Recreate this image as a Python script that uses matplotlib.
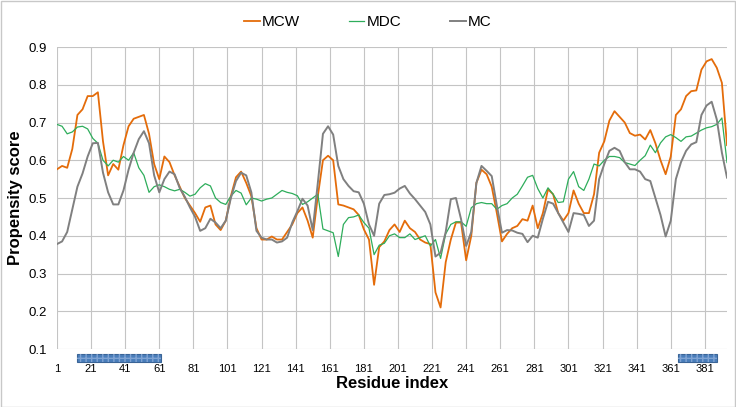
import numpy as np
import matplotlib.pyplot as plt
from matplotlib.patches import Rectangle
import matplotlib.transforms as mtransforms

plt.rcParams['font.family'] = ['Liberation Sans Narrow', 'Liberation Sans', 'DejaVu Sans']

# Datos (residuo cada 3 posiciones)
residue = list(range(1, 395, 3))

mcw = [0.576, 0.585, 0.58, 0.63, 0.72, 0.735, 0.77, 0.77, 0.78, 0.65, 0.56, 0.59,
       0.575, 0.64, 0.69, 0.71, 0.715, 0.72, 0.67, 0.59, 0.55, 0.61, 0.595, 0.56,
       0.53, 0.5, 0.48, 0.46, 0.437, 0.475, 0.48, 0.43, 0.415, 0.44, 0.505, 0.555,
       0.57, 0.54, 0.505, 0.42, 0.39, 0.39, 0.398, 0.39, 0.39, 0.41, 0.43, 0.46,
       0.475, 0.44, 0.395, 0.505, 0.6, 0.612, 0.6, 0.483, 0.48, 0.475, 0.47, 0.455,
       0.417, 0.39, 0.27, 0.37, 0.385, 0.415, 0.43, 0.41, 0.44, 0.42, 0.41, 0.39,
       0.382, 0.378, 0.25, 0.21, 0.33, 0.39, 0.435, 0.435, 0.335, 0.4, 0.54, 0.575,
       0.563, 0.53, 0.46, 0.385, 0.405, 0.42, 0.426, 0.444, 0.44, 0.48, 0.42, 0.46,
       0.523, 0.51, 0.46, 0.44, 0.46, 0.52, 0.485, 0.46, 0.46, 0.51, 0.62, 0.65,
       0.705, 0.73, 0.715, 0.7, 0.672, 0.665, 0.668, 0.655, 0.68, 0.645, 0.6, 0.563,
       0.61, 0.72, 0.735, 0.77, 0.783, 0.785, 0.84, 0.862, 0.868, 0.845, 0.805, 0.64]

mdc = [0.695, 0.69, 0.67, 0.675, 0.688, 0.69, 0.683, 0.658, 0.645, 0.6, 0.585, 0.6,
       0.595, 0.61, 0.6, 0.62, 0.58, 0.56, 0.515, 0.53, 0.535, 0.53, 0.523, 0.519,
       0.523, 0.515, 0.505, 0.51, 0.527, 0.538, 0.532, 0.5, 0.488, 0.483, 0.505, 0.52,
       0.513, 0.482, 0.5, 0.497, 0.492, 0.497, 0.5, 0.51, 0.52, 0.515, 0.512, 0.506,
       0.483, 0.49, 0.5, 0.51, 0.418, 0.413, 0.408, 0.345, 0.43, 0.448, 0.45, 0.455,
       0.435, 0.42, 0.35, 0.375, 0.38, 0.4, 0.405, 0.395, 0.395, 0.405, 0.39, 0.395,
       0.4, 0.373, 0.39, 0.34, 0.405, 0.43, 0.437, 0.437, 0.425, 0.474, 0.485, 0.488,
       0.485, 0.485, 0.47, 0.48, 0.485, 0.5, 0.51, 0.532, 0.555, 0.56, 0.525, 0.5,
       0.527, 0.51, 0.488, 0.49, 0.55, 0.57, 0.53, 0.52, 0.55, 0.59, 0.585, 0.6,
       0.61, 0.61, 0.607, 0.594, 0.59, 0.586, 0.6, 0.612, 0.64, 0.62, 0.646, 0.662,
       0.668, 0.66, 0.65, 0.662, 0.664, 0.672, 0.68, 0.686, 0.689, 0.695, 0.712, 0.594]

mc = [0.378, 0.385, 0.41, 0.47, 0.53, 0.565, 0.61, 0.645, 0.646, 0.567, 0.515, 0.483,
      0.483, 0.52, 0.575, 0.62, 0.656, 0.677, 0.645, 0.56, 0.515, 0.55, 0.57, 0.563,
      0.526, 0.503, 0.475, 0.45, 0.413, 0.42, 0.445, 0.435, 0.42, 0.44, 0.5, 0.545,
      0.567, 0.56, 0.515, 0.413, 0.395, 0.39, 0.39, 0.382, 0.385, 0.395, 0.435, 0.465,
      0.498, 0.48, 0.415, 0.54, 0.67, 0.69, 0.668, 0.585, 0.55, 0.532, 0.518, 0.515,
      0.485, 0.43, 0.4, 0.485, 0.508, 0.51, 0.514, 0.525, 0.532, 0.512, 0.497, 0.48,
      0.463, 0.43, 0.345, 0.355, 0.41, 0.497, 0.5, 0.444, 0.373, 0.41, 0.54, 0.585,
      0.572, 0.558, 0.48, 0.408, 0.415, 0.414, 0.408, 0.405, 0.383, 0.4, 0.395, 0.445,
      0.49, 0.485, 0.46, 0.435, 0.41, 0.46, 0.458, 0.455, 0.426, 0.44, 0.55, 0.59,
      0.625, 0.633, 0.625, 0.595, 0.576, 0.576, 0.57, 0.55, 0.545, 0.5, 0.455, 0.398,
      0.44, 0.55, 0.595, 0.625, 0.642, 0.648, 0.72, 0.745, 0.755, 0.708, 0.62, 0.554]

# Dominios marcados bajo el eje (residuo inicial, final)
domains = [(13, 62), (365, 388)]

xticks = list(range(1, 382, 20))
yticks = [0.1, 0.2, 0.3, 0.4, 0.5, 0.6, 0.7, 0.8, 0.9]

# Colores
clr_mcw = '#E46C0A'
clr_mdc = '#2EAD5B'
clr_mc = '#808080'

fig = plt.figure(figsize=(7.36, 4.07), dpi=100)
fig.patch.set_facecolor('white')
fig.patches.append(Rectangle((0.001, 0.001), 0.998, 0.997, transform=fig.transFigure,
                             fill=False, edgecolor='#C8C8C8', linewidth=1))

ax = fig.add_axes([0.0774, 0.1425, 0.9104, 0.742])
ax.plot(residue, mcw, '-', color=clr_mcw, linewidth=1.3, label='MCW')
ax.plot(residue, mdc, '-', color=clr_mdc, linewidth=0.9, label='MDC')
ax.plot(residue, mc, '-', color=clr_mc, linewidth=1.4, label='MC')

ax.set_xlim(1, 394); ax.set_xticks(xticks)
ax.set_ylim(0.1, 0.9); ax.set_yticks(yticks)
ax.set_yticklabels([f'{v:.1f}' for v in yticks])
ax.grid(True, color='#C4C4C4', linewidth=0.8)
ax.set_axisbelow(True)
for s in ax.spines.values():
    s.set_visible(False)
ax.tick_params(axis='x', length=0, pad=11, labelsize=8)
ax.tick_params(axis='y', length=0, pad=7, labelsize=9.5)

ax.set_xlabel('Residue index', fontsize=12, fontweight='bold', labelpad=1)
ax.set_ylabel('Propensity score', fontsize=12, fontweight='bold', labelpad=4)

# Barras de dominio bajo el eje
trans = mtransforms.blended_transform_factory(ax.transData, ax.transAxes)
for r0, r1 in domains:
    ax.add_patch(Rectangle((r0, -0.043), r1 - r0, 0.027, transform=trans, clip_on=False,
                           facecolor='#4A7EBB', edgecolor='#3A6496', linewidth=0.8))
    ax.add_patch(Rectangle((r0, -0.043), r1 - r0, 0.027, transform=trans, clip_on=False,
                           facecolor='none', edgecolor='#7FA3D3', linewidth=0, hatch='+++'))

fig.legend(loc='center', bbox_to_anchor=(0.5, 0.945), ncol=3, frameon=False,
           fontsize=11, handlelength=1.0, handletextpad=0.15, columnspacing=3.2)

plt.savefig('out.png', dpi=100)
